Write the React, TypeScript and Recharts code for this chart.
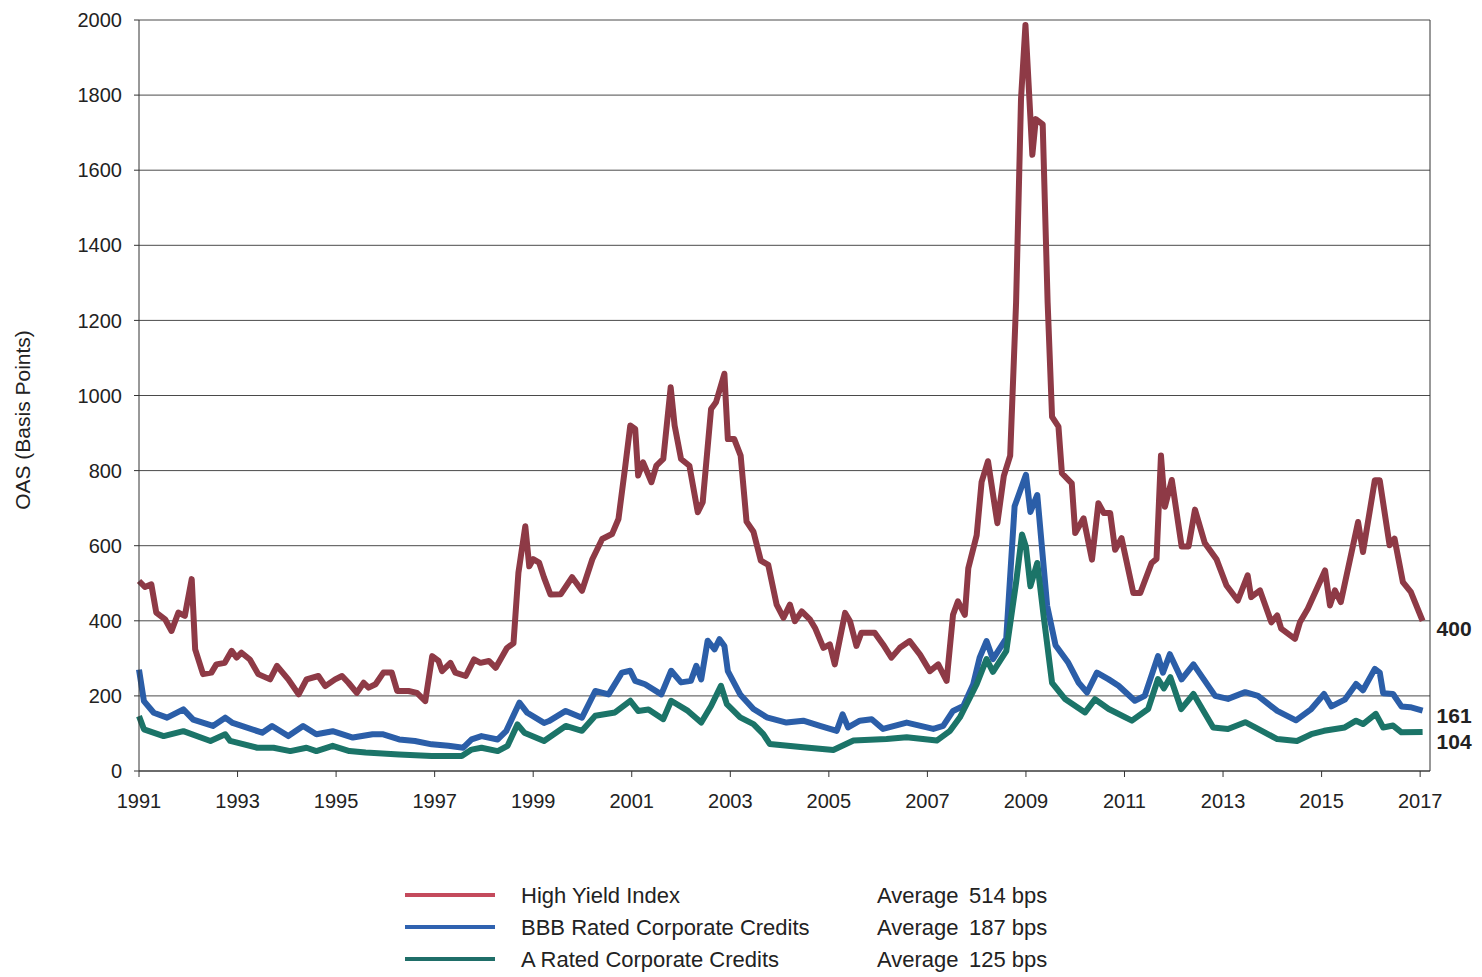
import React from "react";
import { LineChart, Line, XAxis, YAxis, CartesianGrid, ReferenceLine, Label } from "recharts";

const FONT = "'Liberation Sans', Arial, sans-serif";

// Tick labels
const xTicks = [1991, 1993, 1995, 1997, 1999, 2001, 2003, 2005, 2007, 2009, 2011, 2013, 2015, 2017];
const yTicks = [0, 200, 400, 600, 800, 1000, 1200, 1400, 1600, 1800, 2000];

// Series names / averages
const seriesNames = ["High Yield Index", "BBB Rated Corporate Credits", "A Rated Corporate Credits"];
const seriesAverages = ["514 bps", "187 bps", "125 bps"];

// High Yield Index OAS
const hyT = [
  1991.0, 1991.12, 1991.25, 1991.35, 1991.53, 1991.66, 1991.8, 1991.93, 1992.07, 1992.14,
  1992.3, 1992.47, 1992.57, 1992.74, 1992.88, 1992.98, 1993.08, 1993.25, 1993.42, 1993.66,
  1993.8, 1994.03, 1994.24, 1994.4, 1994.64, 1994.78, 1994.98, 1995.12, 1995.25, 1995.42,
  1995.56, 1995.66, 1995.8, 1995.96, 1996.13, 1996.24, 1996.47, 1996.64, 1996.81, 1996.95,
  1997.08, 1997.15, 1997.32, 1997.42, 1997.63, 1997.8, 1997.93, 1998.1, 1998.24, 1998.47,
  1998.6, 1998.7, 1998.84, 1998.92, 1999.0, 1999.12, 1999.22, 1999.35, 1999.56, 1999.79,
  1999.99, 2000.2, 2000.4, 2000.6, 2000.73, 2000.87, 2000.97, 2001.07, 2001.13, 2001.23,
  2001.4, 2001.5, 2001.64, 2001.79, 2001.87, 2002.0, 2002.17, 2002.34, 2002.44, 2002.61,
  2002.71, 2002.88, 2002.95, 2003.08, 2003.21, 2003.33, 2003.47, 2003.62, 2003.77, 2003.94,
  2004.08, 2004.21, 2004.31, 2004.45, 2004.62, 2004.72, 2004.89, 2005.02, 2005.12, 2005.33,
  2005.43, 2005.56, 2005.66, 2005.93, 2006.1, 2006.27, 2006.44, 2006.64, 2006.85, 2007.05,
  2007.22, 2007.39, 2007.52, 2007.62, 2007.76, 2007.83, 2008.0, 2008.1, 2008.23, 2008.42,
  2008.55, 2008.68, 2008.8, 2008.9, 2008.99, 2009.07, 2009.13, 2009.2, 2009.34, 2009.44,
  2009.53, 2009.66, 2009.73, 2009.93, 2010.0, 2010.17, 2010.34, 2010.47, 2010.58, 2010.71,
  2010.81, 2010.94, 2011.18, 2011.32, 2011.55, 2011.65, 2011.74, 2011.82, 2011.96, 2012.16,
  2012.3, 2012.43, 2012.63, 2012.87, 2013.07, 2013.3, 2013.5, 2013.57, 2013.75, 2013.98,
  2014.1, 2014.18, 2014.46, 2014.56, 2014.72, 2015.07, 2015.17, 2015.27, 2015.39, 2015.74,
  2015.84, 2016.08, 2016.18, 2016.38, 2016.48, 2016.65, 2016.81, 2017.05,
];
const hyV = [
  506, 490, 497, 422, 404, 373, 422, 413, 511, 324,
  258, 262, 284, 288, 320, 302, 315, 297, 258, 244,
  280, 244, 204, 244, 253, 226, 244, 253, 235, 208,
  235, 222, 231, 262, 262, 213, 213, 208, 186, 306,
  293, 266, 288, 262, 253, 297, 288, 293, 275, 328,
  340, 528, 652, 545, 564, 555, 515, 470, 471, 516,
  480, 564, 618, 631, 671, 813, 920, 911, 787, 822,
  769, 813, 831, 1022, 920, 831, 813, 689, 716, 964,
  982, 1058, 884, 884, 840, 664, 637, 560, 549, 443,
  408, 443, 399, 425, 403, 381, 328, 337, 284, 421,
  399, 333, 368, 368, 337, 302, 328, 346, 310, 266,
  284, 240, 416, 452, 416, 540, 628, 770, 825, 660,
  785, 840, 1248, 1790, 1987, 1790, 1641, 1736, 1722, 1248,
  943, 917, 793, 766, 634, 673, 563, 713, 687, 687,
  589, 620, 474, 474, 554, 565, 840, 704, 775, 598,
  598, 696, 607, 563, 494, 454, 521, 463, 481, 396,
  414, 379, 352, 396, 432, 534, 441, 481, 450, 663,
  583, 774, 774, 601, 619, 503, 477, 400,
];

// BBB Rated Corporate Credits OAS
const bbbT = [
  1991.0, 1991.1, 1991.3, 1991.57, 1991.9, 1992.1, 1992.5, 1992.75, 1992.9, 1993.5,
  1993.7, 1994.03, 1994.33, 1994.6, 1994.93, 1995.34, 1995.74, 1995.94, 1996.28, 1996.6,
  1996.94, 1997.28, 1997.58, 1997.75, 1997.95, 1998.28, 1998.45, 1998.72, 1998.88, 1999.22,
  1999.32, 1999.66, 1999.99, 2000.26, 2000.53, 2000.8, 2000.97, 2001.07, 2001.27, 2001.6,
  2001.8, 2002.0, 2002.2, 2002.31, 2002.41, 2002.54, 2002.68, 2002.78, 2002.88, 2002.95,
  2003.2, 2003.47, 2003.74, 2004.14, 2004.48, 2004.82, 2005.16, 2005.28, 2005.39, 2005.63,
  2005.87, 2006.1, 2006.58, 2007.12, 2007.32, 2007.52, 2007.73, 2007.93, 2008.06, 2008.2,
  2008.33, 2008.6, 2008.77, 2009.0, 2009.09, 2009.23, 2009.43, 2009.6, 2009.86, 2010.07,
  2010.24, 2010.44, 2010.68, 2010.88, 2011.21, 2011.41, 2011.68, 2011.78, 2011.92, 2012.16,
  2012.4, 2012.84, 2013.1, 2013.45, 2013.71, 2014.1, 2014.48, 2014.79, 2015.05, 2015.2,
  2015.47, 2015.7, 2015.84, 2016.08, 2016.18, 2016.25, 2016.45, 2016.62, 2016.8, 2017.05,
];
const bbbV = [
  270, 186, 155, 142, 164, 137, 120, 142, 128, 102,
  120, 93, 120, 98, 106, 89, 98, 98, 84, 80,
  71, 67, 62, 84, 93, 84, 106, 182, 155, 128,
  133, 160, 142, 213, 204, 262, 267, 240, 231, 204,
  267, 236, 240, 280, 244, 347, 324, 351, 333, 266,
  204, 165, 143, 129, 134, 120, 107, 151, 116, 134,
  138, 112, 129, 112, 120, 160, 173, 231, 302, 346,
  298, 353, 705, 789, 690, 735, 440, 335, 288, 235,
  209, 262, 244, 227, 187, 200, 306, 262, 311, 244,
  284, 200, 192, 210, 200, 160, 135, 165, 205, 172,
  190, 232, 215, 272, 262, 207, 205, 172, 170, 161,
];

// A Rated Corporate Credits OAS
const aT = [
  1991.0, 1991.1, 1991.5, 1991.9, 1992.45, 1992.75, 1992.85, 1993.4, 1993.73, 1994.07,
  1994.4, 1994.6, 1994.93, 1995.27, 1995.6, 1996.28, 1996.94, 1997.55, 1997.75, 1997.95,
  1998.28, 1998.48, 1998.68, 1998.82, 1999.22, 1999.66, 1999.99, 2000.26, 2000.66, 2000.97,
  2001.13, 2001.34, 2001.64, 2001.8, 2002.14, 2002.41, 2002.61, 2002.81, 2002.93, 2003.2,
  2003.47, 2003.67, 2003.8, 2004.48, 2005.09, 2005.5, 2006.17, 2006.58, 2007.19, 2007.46,
  2007.66, 2008.0, 2008.2, 2008.33, 2008.6, 2008.8, 2008.92, 2009.0, 2009.09, 2009.23,
  2009.36, 2009.53, 2009.8, 2010.2, 2010.4, 2010.68, 2011.15, 2011.48, 2011.68, 2011.8,
  2011.93, 2012.15, 2012.4, 2012.8, 2013.1, 2013.45, 2013.71, 2014.1, 2014.5, 2014.79,
  2015.05, 2015.47, 2015.7, 2015.84, 2016.1, 2016.25, 2016.45, 2016.62, 2017.05,
];
const aV = [
  146, 111, 93, 106, 80, 98, 80, 62, 62, 53,
  62, 53, 67, 53, 49, 44, 40, 40, 57, 62,
  53, 67, 124, 102, 80, 120, 107, 147, 156, 187,
  160, 164, 138, 187, 160, 129, 173, 227, 178, 143,
  125, 98, 72, 63, 56, 81, 85, 90, 81, 107,
  143, 231, 298, 264, 319, 502, 630, 597, 492, 554,
  412, 235, 191, 156, 191, 165, 134, 165, 245, 220,
  250, 165, 205, 116, 112, 130, 112, 85, 80, 98,
  107, 116, 134, 125, 152, 116, 121, 103, 104,
];

const hyData = hyT.map((t, i) => ({ t, v: hyV[i] }));
const bbbData = bbbT.map((t, i) => ({ t, v: bbbV[i] }));
const aData = aT.map((t, i) => ({ t, v: aV[i] }));

const lineColors = ["#8e3a46", "#2b5ea8", "#1b7468"];
const legendColors = ["#c44a5c", "#2f62b0", "#1f6e68"];

const endLabel = (last: number, dy: number) => (props: any) => {
  if (props.index !== last) return null;
  return (
    <text
      x={props.x + 14}
      y={props.y + dy}
      dominantBaseline="central"
      fontFamily={FONT}
      fontSize={21}
      fontWeight="bold"
      fill="#222"
    >
      {props.value}
    </text>
  );
};

const YLabel = () => (
  <text
    x={22}
    y={420}
    transform="rotate(-90 22 420)"
    textAnchor="middle"
    dominantBaseline="central"
    fontFamily={FONT}
    fontSize={21}
    fill="#222"
  >
    OAS (Basis Points)
  </text>
);

export default function App() {
  const tickStyle = { fontFamily: FONT, fontSize: 20, fill: "#222" };
  const rows = [896, 928, 960];
  const textStyle: React.CSSProperties = {
    position: "absolute",
    height: 30,
    lineHeight: "30px",
    fontFamily: FONT,
    fontSize: 22,
    color: "#222",
    whiteSpace: "nowrap",
  };
  return (
    <div style={{ position: "absolute", left: 0, top: 0, width: 1482, height: 977, background: "#fff" }}>
      <LineChart width={1482} height={860} margin={{ top: 20, right: 52, left: 0, bottom: 29 }}>
        <CartesianGrid horizontal={true} vertical={false} stroke="#4a4a4a" strokeWidth={1} />
        <XAxis
          type="number"
          dataKey="t"
          domain={[1991, 2017.2]}
          ticks={xTicks}
          height={60}
          tick={tickStyle}
          tickSize={6}
          tickMargin={17}
          axisLine={{ stroke: "#333" }}
          tickLine={{ stroke: "#333" }}
          allowDuplicatedCategory={false}
        />
        <YAxis
          type="number"
          domain={[0, 2000]}
          ticks={yTicks}
          width={139}
          tick={tickStyle}
          tickSize={5}
          tickMargin={12}
          axisLine={{ stroke: "#333" }}
          tickLine={{ stroke: "#333" }}
        >
          <Label content={() => <YLabel />} />
        </YAxis>
        <ReferenceLine x={2017.2} stroke="#333" strokeWidth={1} />
        <Line
          data={hyData}
          dataKey="v"
          name={seriesNames[0]}
          stroke={lineColors[0]}
          strokeWidth={6}
          strokeLinejoin="round"
          dot={false}
          type="linear"
          isAnimationActive={false}
          label={endLabel(hyData.length - 1, 8)}
        />
        <Line
          data={bbbData}
          dataKey="v"
          name={seriesNames[1]}
          stroke={lineColors[1]}
          strokeWidth={6}
          strokeLinejoin="round"
          dot={false}
          type="linear"
          isAnimationActive={false}
          label={endLabel(bbbData.length - 1, 5)}
        />
        <Line
          data={aData}
          dataKey="v"
          name={seriesNames[2]}
          stroke={lineColors[2]}
          strokeWidth={6}
          strokeLinejoin="round"
          dot={false}
          type="linear"
          isAnimationActive={false}
          label={endLabel(aData.length - 1, 10)}
        />
      </LineChart>
      {seriesNames.map((n, i) => (
        <React.Fragment key={n}>
          <div
            style={{
              position: "absolute",
              left: 405,
              top: rows[i] - 3,
              width: 90,
              height: 4,
              background: legendColors[i],
            }}
          />
          <div style={{ ...textStyle, left: 521, top: rows[i] - 15 }}>{n}</div>
          <div style={{ ...textStyle, left: 877, top: rows[i] - 15 }}>Average</div>
          <div style={{ ...textStyle, left: 969, top: rows[i] - 15 }}>{seriesAverages[i]}</div>
        </React.Fragment>
      ))}
    </div>
  );
}
